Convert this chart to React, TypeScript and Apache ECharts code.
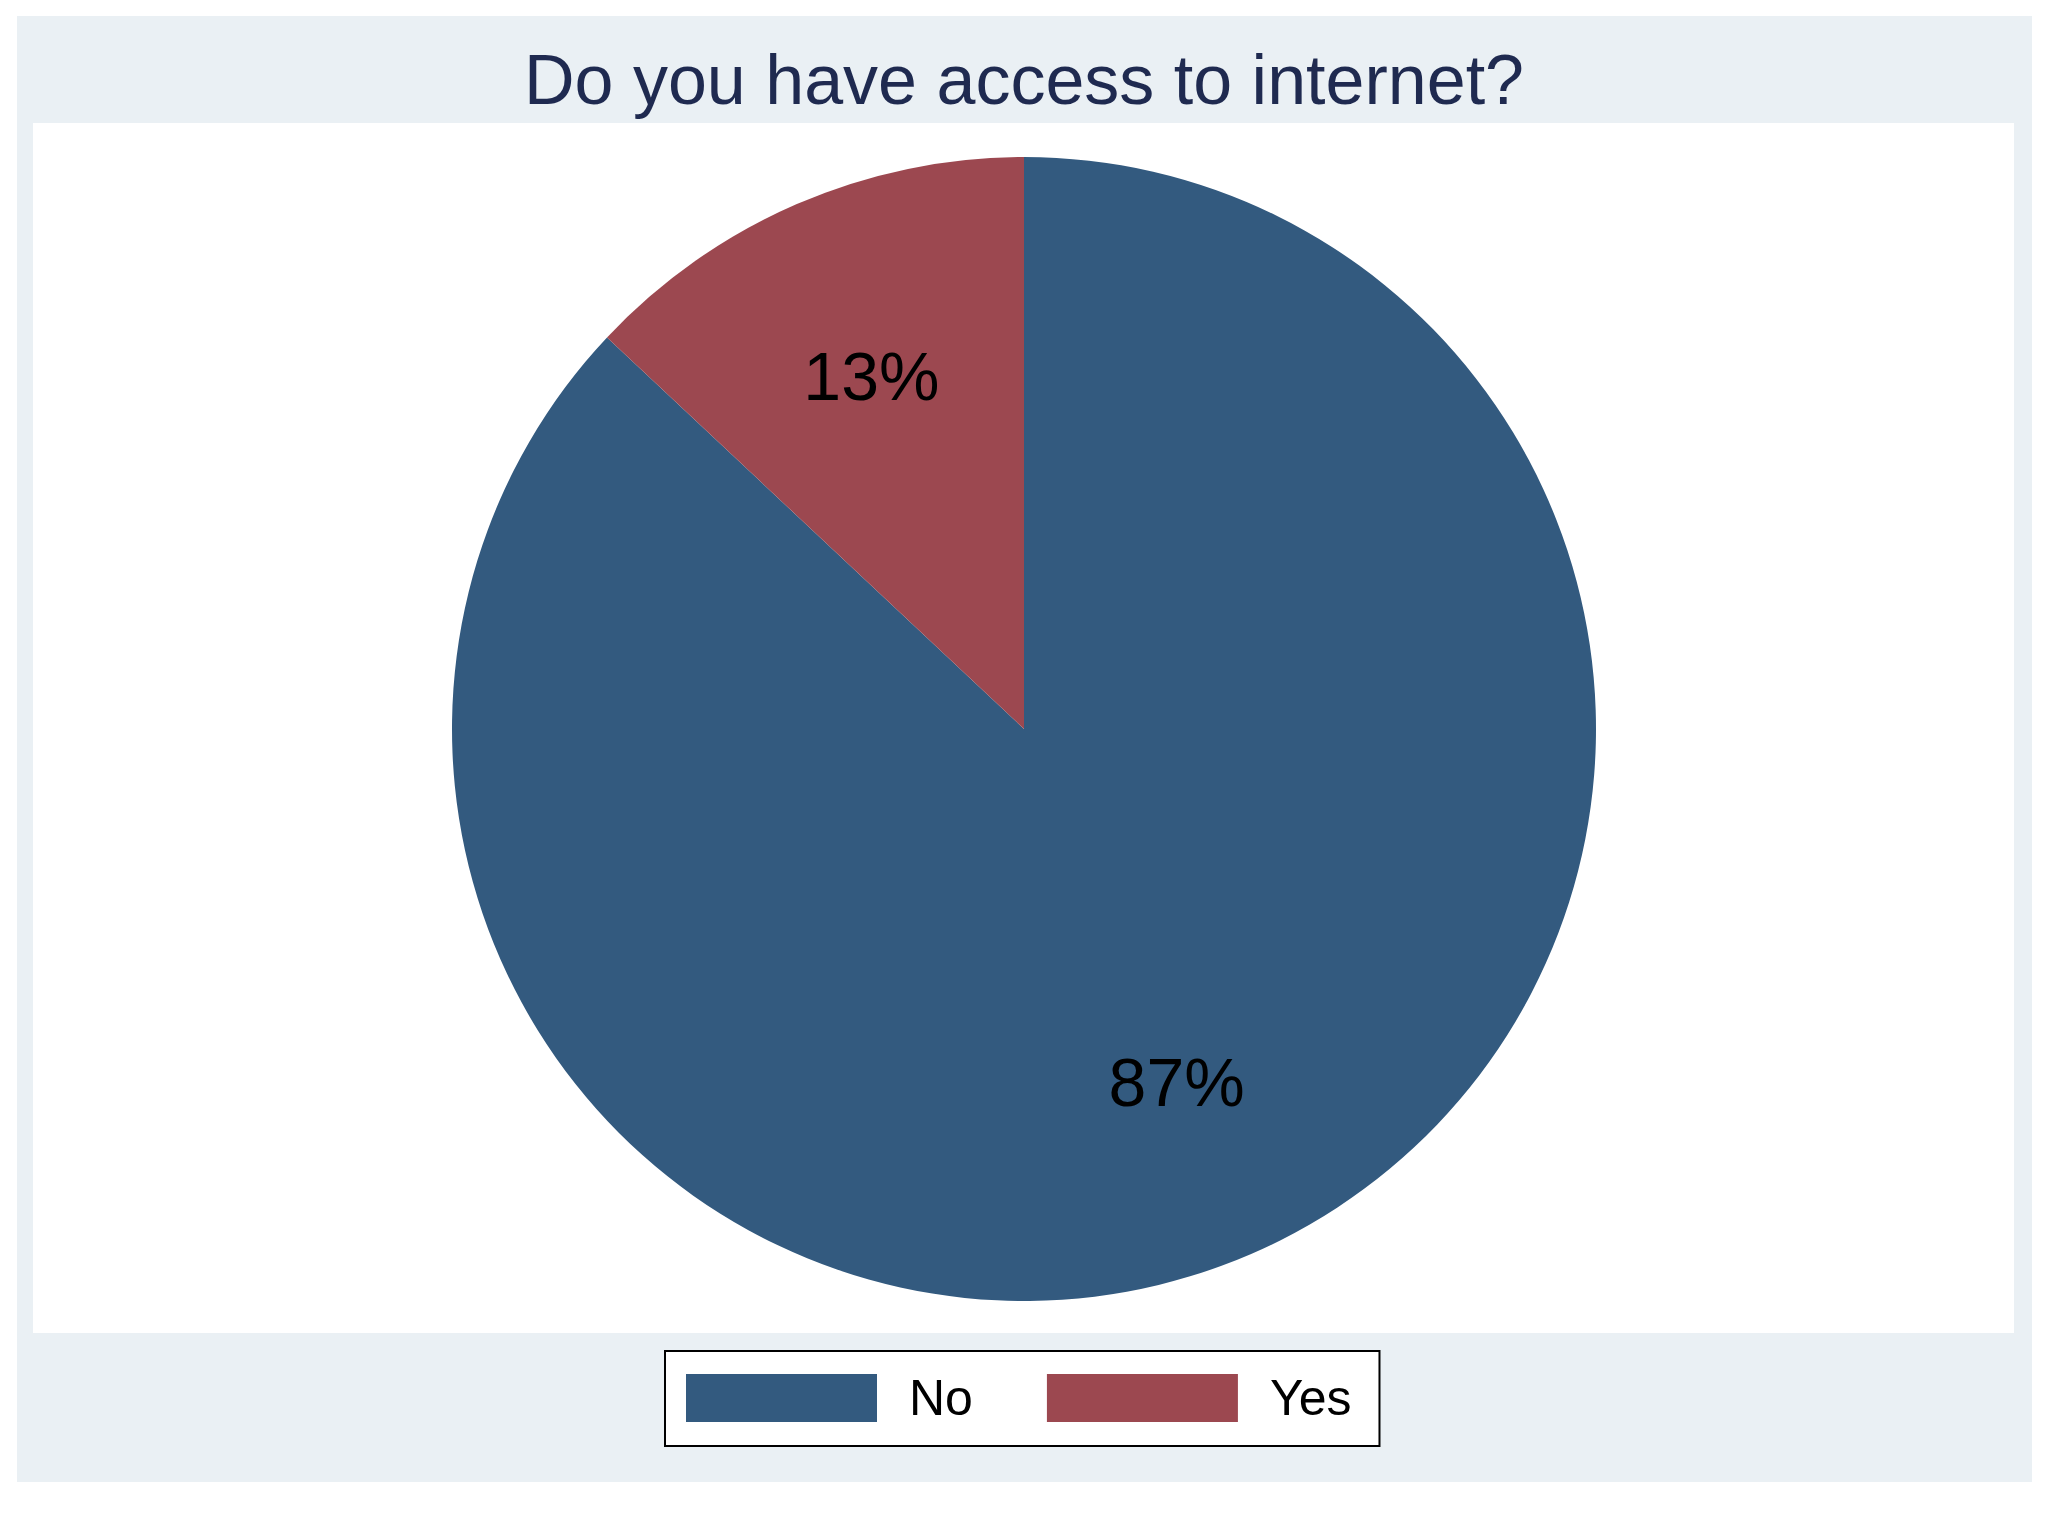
import * as echarts from "echarts";
import { useEffect, useRef } from "react";

const TITLE = "Do you have access to internet?";
const CATEGORIES = ["No", "Yes"];
const VALUES = [87, 13];
const COLORS = ["#335a7f", "#9c4850"];

const FONT = "'Liberation Sans', Arial, Helvetica, sans-serif";
/** 饼半径（px）；标签放在 2/3 半径处，用一个放大 4/3 的透明饼承载标签。 */
const PIE_RADIUS = 572;
const PIE_CENTER = [1024, 729];

function buildOption(): echarts.EChartsOption {
  const data = CATEGORIES.map((name, i) => ({
    name,
    value: VALUES[i],
    itemStyle: { color: COLORS[i] },
  }));
  return {
    animation: false,
    backgroundColor: "#ffffff",
    graphic: [
      {
        type: "rect",
        z: -10,
        silent: true,
        shape: { x: 17, y: 16, width: 2015, height: 1466 },
        style: { fill: "#eaf0f4" },
      },
      {
        type: "rect",
        z: -9,
        silent: true,
        shape: { x: 33, y: 123, width: 1981, height: 1210 },
        style: { fill: "#ffffff" },
      },
    ],
    title: {
      text: TITLE,
      left: "center",
      top: 40,
      textStyle: {
        fontFamily: FONT,
        fontSize: 70,
        fontWeight: "normal",
        color: "#1f2a50",
      },
    },
    legend: {
      data: CATEGORIES,
      left: 665,
      top: 1351,
      orient: "horizontal",
      icon: "rect",
      itemWidth: 191,
      itemHeight: 48,
      itemGap: 74,
      padding: [22, 28, 23, 21],
      backgroundColor: "#ffffff",
      borderColor: "#000000",
      borderWidth: 2,
      borderRadius: 0,
      selectedMode: false,
      textStyle: {
        fontFamily: FONT,
        fontSize: 50,
        color: "#000000",
        padding: [0, 0, 0, 27],
      },
    },
    series: [
      {
        type: "pie",
        center: PIE_CENTER,
        radius: [0, PIE_RADIUS],
        startAngle: 90,
        clockwise: true,
        silent: true,
        label: { show: false },
        labelLine: { show: false },
        itemStyle: { borderWidth: 0 },
        emphasis: { disabled: true },
        data,
      },
      {
        // 透明承载层：inside 标签落在 (0 + 4/3R)/2 = 2/3R 处
        type: "pie",
        center: PIE_CENTER,
        radius: [0, (PIE_RADIUS * 4) / 3],
        startAngle: 90,
        clockwise: true,
        silent: true,
        legendHoverLink: false,
        percentPrecision: 0,
        itemStyle: { color: "transparent", borderWidth: 0 },
        emphasis: { disabled: true },
        labelLine: { show: false },
        label: {
          show: true,
          position: "inside",
          formatter: "{d}%",
          fontFamily: FONT,
          fontSize: 68,
          color: "#000000",
        },
        data: CATEGORIES.map((name, i) => ({ name, value: VALUES[i] })),
      },
    ],
  };
}

export default function App() {
  const chartRef = useRef<HTMLDivElement | null>(null);

  useEffect(() => {
    const el = chartRef.current;
    if (!el) {
      return undefined;
    }
    const chart = echarts.init(el, undefined, { renderer: "svg" });
    chart.setOption(buildOption());
    return () => {
      chart.dispose();
    };
  }, []);

  return (
    <div
      ref={chartRef}
      style={{ position: "absolute", left: 0, top: 0, width: 2048, height: 1536 }}
    />
  );
}
